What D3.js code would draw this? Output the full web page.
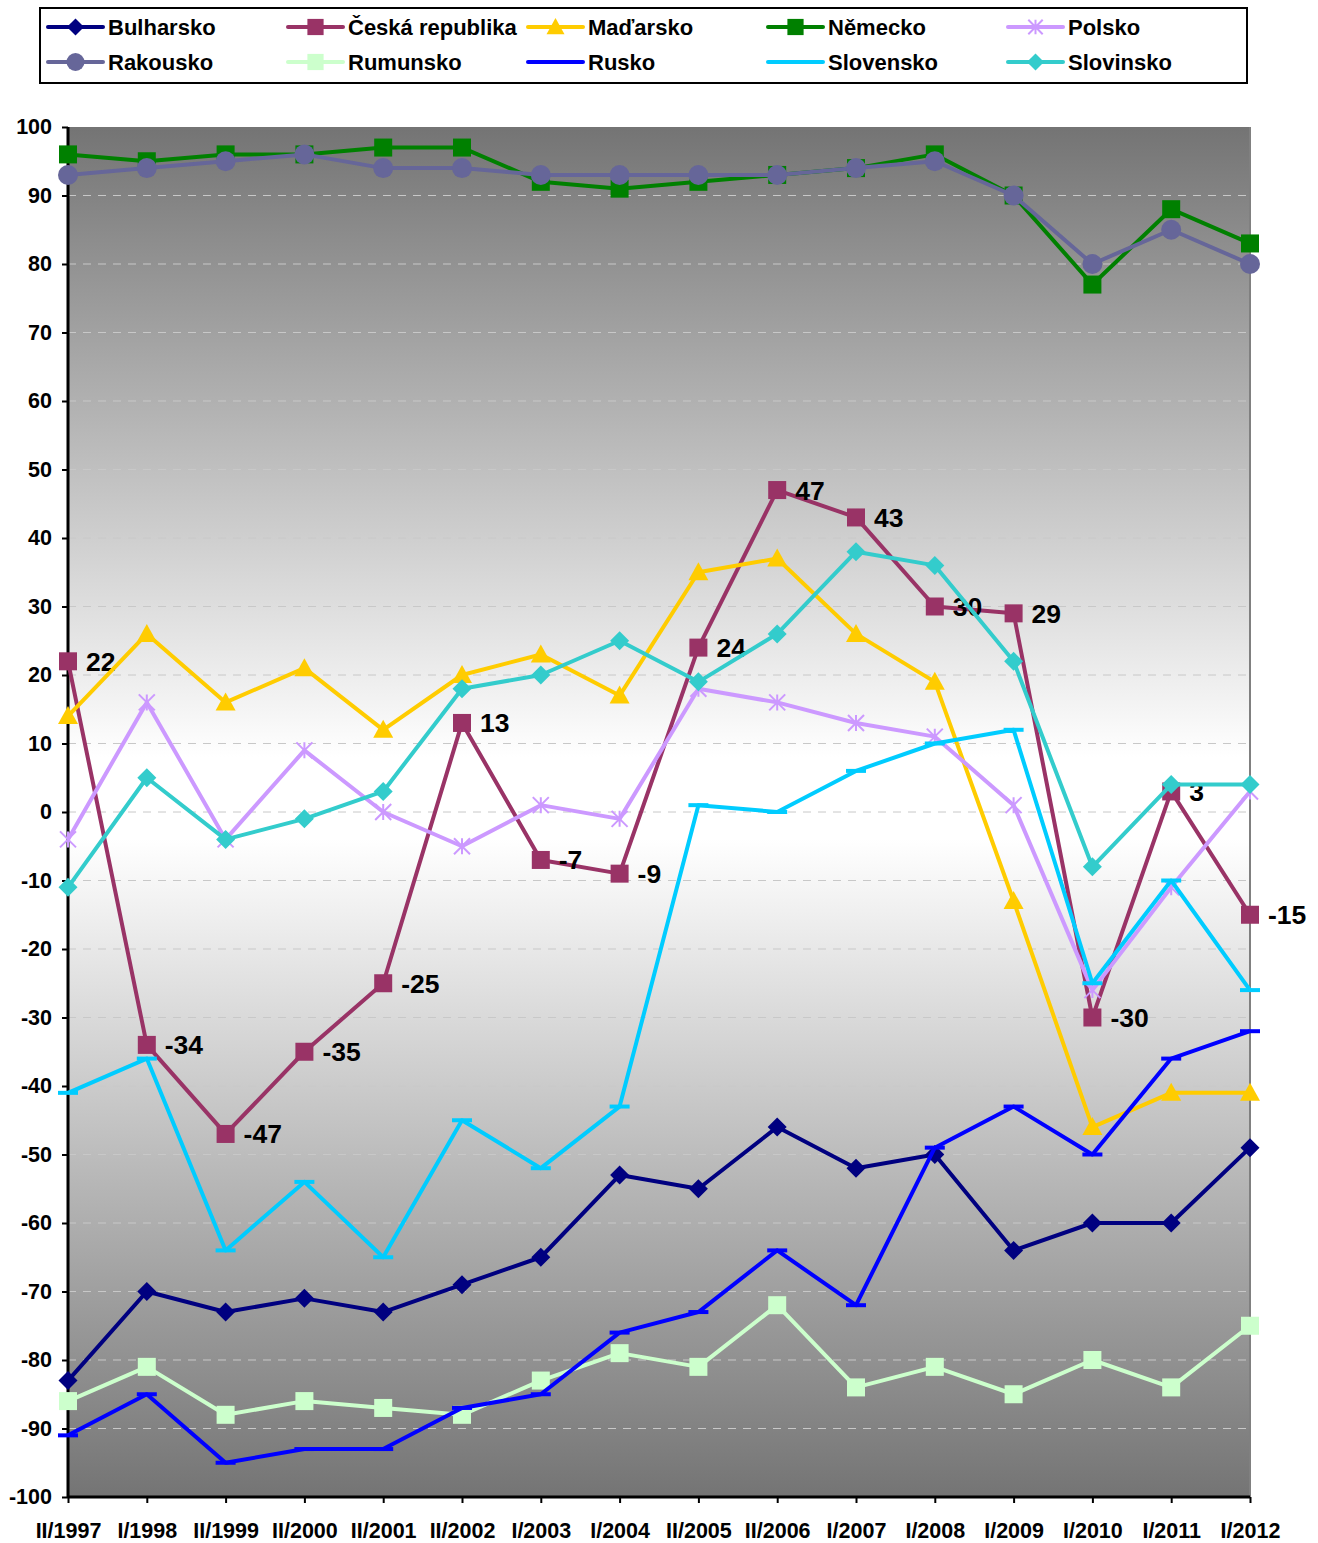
<!DOCTYPE html>
<html>
<head>
<meta charset="utf-8">
<title>Chart</title>
<script src="https://d3js.org/d3.v7.min.js"></script>
<style>
  body { margin: 0; background: #fff; }
  text { font-family: "Liberation Sans", Arial, sans-serif; font-weight: bold; }
</style>
</head>
<body>
<div id="chart"></div>
<script>
const categories = ["II/1997","I/1998","II/1999","II/2000","II/2001","II/2002","I/2003","I/2004",
  "II/2005","II/2006","I/2007","I/2008","I/2009","I/2010","I/2011","I/2012"];

const bulharsko = [-83,-70,-73,-71,-73,-69,-65,-53,-55,-46,-52,-50,-64,-60,-60,-49];
const ceska     = [22,-34,-47,-35,-25,13,-7,-9,24,47,43,30,29,-30,3,-15];
const madarsko  = [14,26,16,21,12,20,23,17,35,37,26,19,-13,-46,-41,-41];
const nemecko   = [96,95,96,96,97,97,92,91,92,93,94,96,90,77,88,83];
const polsko    = [-4,16,-4,9,0,-5,1,-1,18,16,13,11,1,-26,-11,3];
const rakousko  = [93,94,95,96,94,94,93,93,93,93,94,95,90,80,85,80];
const rumunsko  = [-86,-81,-88,-86,-87,-88,-83,-79,-81,-72,-84,-81,-85,-80,-84,-75];
const rusko     = [-91,-85,-95,-93,-93,-87,-85,-76,-73,-64,-72,-49,-43,-50,-36,-32];
const slovensko = [-41,-36,-64,-54,-65,-45,-52,-43,1,0,6,10,12,-25,-10,-26];
const slovinsko = [-11,5,-4,-1,3,18,20,25,19,26,38,36,22,-8,4,4];

const yTicks = d3.range(-100, 101, 10);

const series = [
  {name: "Bulharsko", values: bulharsko, color: "#000080", marker: "diamond"},
  {name: "Česká republika", values: ceska, color: "#993366", marker: "square", labels: true},
  {name: "Maďarsko", values: madarsko, color: "#FFCC00", marker: "triangle"},
  {name: "Německo", values: nemecko, color: "#008000", marker: "square"},
  {name: "Polsko", values: polsko, color: "#CC99FF", marker: "star"},
  {name: "Rakousko", values: rakousko, color: "#666699", marker: "circle"},
  {name: "Rumunsko", values: rumunsko, color: "#CCFFCC", marker: "square"},
  {name: "Rusko", values: rusko, color: "#0000FF", marker: "dash"},
  {name: "Slovensko", values: slovensko, color: "#00CCFF", marker: "dash"},
  {name: "Slovinsko", values: slovinsko, color: "#33CCCC", marker: "diamond"}
];

const W = 1318, H = 1543;
const plotL = 68, plotR = 1250, plotT = 127, plotB = 1497;

const svg = d3.select("#chart").append("svg")
  .attr("width", W).attr("height", H);

const x = d3.scalePoint().domain(categories).range([plotL, plotR]);
const y = d3.scaleLinear().domain([-100, 100]).range([plotB, plotT]);

// background gradient
const grad = svg.append("defs").append("linearGradient")
  .attr("id", "bg").attr("x1", 0).attr("y1", 0).attr("x2", 0).attr("y2", 1);
grad.append("stop").attr("offset", "0%").attr("stop-color", "#747474");
grad.append("stop").attr("offset", "46%").attr("stop-color", "#ffffff");
grad.append("stop").attr("offset", "52%").attr("stop-color", "#ffffff");
grad.append("stop").attr("offset", "100%").attr("stop-color", "#747474");

svg.append("rect")
  .attr("x", plotL).attr("y", plotT)
  .attr("width", plotR - plotL).attr("height", plotB - plotT)
  .attr("fill", "url(#bg)");
svg.append("line")
  .attr("x1", plotR).attr("x2", plotR).attr("y1", plotT).attr("y2", plotB)
  .attr("stroke", "#808080").attr("stroke-width", 2);

// gridlines
svg.append("g").selectAll("line")
  .data(yTicks.filter(d => d > -100 && d < 100))
  .join("line")
  .attr("x1", plotL).attr("x2", plotR)
  .attr("y1", d => y(d)).attr("y2", d => y(d))
  .attr("stroke", "#c8c8c8").attr("stroke-width", 1)
  .attr("stroke-dasharray", "8,7");

// axes
const yAxis = svg.append("g")
  .attr("transform", "translate(" + plotL + ",0)")
  .call(d3.axisLeft(y).tickValues(yTicks).tickFormat(d => String(d)).tickSize(6).tickPadding(10));
const xAxis = svg.append("g")
  .attr("transform", "translate(0," + plotB + ")")
  .call(d3.axisBottom(x).tickSize(6).tickPadding(20));
[yAxis, xAxis].forEach(a => {
  a.select(".domain").attr("stroke", "#000").attr("stroke-width", 3);
  a.selectAll(".tick line").attr("stroke", "#000").attr("stroke-width", 2);
  a.selectAll("text").attr("font-size", 21.5).attr("fill", "#000")
    .attr("font-family", "Liberation Sans, Arial, sans-serif").attr("font-weight", "bold");
});
xAxis.select(".domain").attr("d", "M" + plotL + ",0H" + plotR);
yAxis.select(".domain").attr("d", "M0," + plotT + "V" + plotB);

function drawMarker(g, type, color, s) {
  s = s || 1;
  if (type === "square") {
    g.append("rect").attr("x", -9 * s).attr("y", -9 * s)
      .attr("width", 18 * s).attr("height", 18 * s).attr("fill", color);
  } else if (type === "circle") {
    g.append("circle").attr("r", 10 * s).attr("fill", color);
  } else if (type === "diamond") {
    const r = 9.5 * s;
    g.append("path").attr("d", `M0,${-r}L${r},0L0,${r}L${-r},0Z`).attr("fill", color);
  } else if (type === "triangle") {
    const r = 10 * s;
    g.append("path").attr("d", `M0,${-r}L${r},${r * 0.8}L${-r},${r * 0.8}Z`).attr("fill", color);
  } else if (type === "star") {
    const r = 8 * s;
    g.append("path")
      .attr("d", `M${-r},${-r}L${r},${r}M${-r},${r}L${r},${-r}M0,${-r}V${r}`)
      .attr("stroke", color).attr("stroke-width", 2).attr("fill", "none");
  } else if (type === "dash") {
    g.append("line").attr("x1", -10 * s).attr("x2", 10 * s)
      .attr("stroke", color).attr("stroke-width", 4);
  }
}

const line = d3.line().x((d, i) => x(categories[i])).y(d => y(d));

series.forEach(s => {
  const g = svg.append("g");
  g.append("path").datum(s.values)
    .attr("d", line).attr("fill", "none")
    .attr("stroke", s.color).attr("stroke-width", 4)
    .attr("stroke-linejoin", "round");
  s.values.forEach((v, i) => {
    const m = g.append("g").attr("transform", `translate(${x(categories[i])},${y(v)})`);
    drawMarker(m, s.marker, s.color);
  });
  if (s.labels) {
    g.selectAll("text.lbl").data(s.values).join("text")
      .attr("class", "lbl")
      .attr("x", (d, i) => x(categories[i]) + 18)
      .attr("y", d => y(d))
      .attr("dy", "0.36em")
      .attr("font-size", 26.5).attr("fill", "#000")
      .text(d => d);
  }
});

// legend
const legend = svg.append("g");
legend.append("rect")
  .attr("x", 40).attr("y", 8).attr("width", 1207).attr("height", 75)
  .attr("fill", "#fff").attr("stroke", "#000").attr("stroke-width", 2);
series.forEach((s, i) => {
  const col = i % 5, row = Math.floor(i / 5);
  const lx = 48 + col * 240, ly = 27 + row * 35;
  const g = legend.append("g").attr("transform", `translate(${lx},${ly})`);
  g.append("line").attr("x1", 0).attr("x2", 55)
    .attr("stroke", s.color).attr("stroke-width", 4).attr("stroke-linecap", "round");
  if (s.marker !== "dash") {
    const m = g.append("g").attr("transform", "translate(27.5,0)");
    drawMarker(m, s.marker, s.color, 0.9);
  }
  g.append("text").attr("x", 60).attr("dy", "0.36em")
    .attr("font-size", 22).attr("fill", "#000").text(s.name);
});
</script>
</body>
</html>
